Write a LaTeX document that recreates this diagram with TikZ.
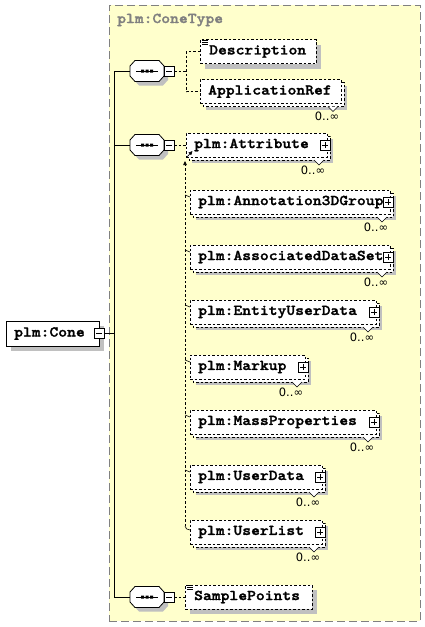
\documentclass[tikz,border=0pt]{standalone}
\usepackage{fontspec}
\newfontfamily\elfont{lmmonolt10-bold}[Extension=.otf, FakeStretch=1.12, FakeBold=1.6]
\newfontfamily\occfont{DejaVu Sans}
\usetikzlibrary{arrows.meta}
\definecolor{grpfill}{HTML}{FFFFCC}
\definecolor{grpline}{HTML}{808080}
\definecolor{shadowgray}{HTML}{C0C0C0}
\tikzset{
  x=1pt, y=-1pt,
  wire/.style={line width=0.9pt, black},
  dl/.style={line width=0.7pt, dash pattern=on 2.5pt off 2pt},
  boxdash/.style={draw, fill=white, line width=0.7pt, dash pattern=on 2.5pt off 2pt},
  eltext/.style={font={\elfont\fontsize{15}{16}\selectfont}, inner sep=0pt, anchor=west},
  occ/.style={font={\occfont\fontsize{11.5}{12}\selectfont}, inner sep=0pt},
  pm/.style={draw, fill=white, line width=0.6pt, minimum size=10pt, inner sep=0pt},
  pmminus/.style={pm, path picture={\draw[line width=0.6pt] ([xshift=-3pt]path picture bounding box.center) -- ([xshift=3pt]path picture bounding box.center);}},
  pmplus/.style={pm, path picture={\draw[line width=0.6pt] ([xshift=-3pt]path picture bounding box.center) -- ([xshift=3pt]path picture bounding box.center) ([yshift=-3pt]path picture bounding box.center) -- ([yshift=3pt]path picture bounding box.center);}},
  tipa/.style={-{Triangle[length=4pt,width=3.5pt]}},
}
% multi-occurrence element: name, x1, cy, x2, text
\newcommand{\multel}[5]{%
  \fill[shadowgray] (#2+6,#3-6) rectangle (#4+6,#3+18);
  \draw[boxdash] (#2+3,#3-9) rectangle (#4+3,#3+15);
  \node[boxdash, anchor=north west, minimum width=#4-#2, minimum height=24, inner sep=0pt, outer sep=0pt] (#1) at (#2,#3-12) {};
  \node[eltext] (#1t) at (#2+8,#3) {#5};
  \draw[fill=white, line width=0.6pt] (#4-13,#3+15) -- (#4-8,#3+20) -- (#4-3,#3+15);
  \node[occ] (#1o) at (#4-14,#3+25) {0..∞};
}
% single element with documentation icon: name, x1, cy, x2, text
\newcommand{\singleel}[5]{%
  \fill[shadowgray] (#2+5,#3-7) rectangle (#4+5,#3+17);
  \node[boxdash, anchor=north west, minimum width=#4-#2, minimum height=24, inner sep=0pt, outer sep=0pt] (#1) at (#2,#3-12) {};
  \node[eltext] (#1t) at (#2+9,#3) {#5};
  \draw[line width=0.6pt] (#2+2,#3-11.5) -- ++(6,0) (#2+2,#3-9.5) -- ++(6,0) (#2+2,#3-7.5) -- ++(6,0);
}
% sequence compositor: name, cy
\newcommand{\seqnode}[2]{%
  \fill[shadowgray, shift={(151,#2+4)}] (-17,-5) -- (-12,-10.5) -- (12,-10.5) -- (17,-5) -- (17,5) -- (12,10.5) -- (-12,10.5) -- (-17,5) -- cycle;
  \draw[fill=white, line width=0.8pt, shift={(147,#2)}] (-17,-5) -- (-12,-10.5) -- (12,-10.5) -- (17,-5) -- (17,5) -- (12,10.5) -- (-12,10.5) -- (-17,5) -- cycle;
  \node[minimum width=34, minimum height=21, inner sep=0pt, outer sep=0pt] (#1) at (147,#2) {};
  \draw[line width=0.9pt] (136,#2) -- (158,#2);
  \fill (141,#2-1.5) rectangle ++(3,3) (145.5,#2-1.5) rectangle ++(3,3) (150,#2-1.5) rectangle ++(3,3);
  \node[pmminus] (#1m) at (169,#2) {};
}
\begin{document}
\begin{tikzpicture}
\useasboundingbox (0,0) rectangle (425,627);
% group box
\node[draw=grpline, fill=grpfill, line width=1pt, dash pattern=on 8pt off 4pt,
      anchor=north west, minimum width=311, minimum height=616, inner sep=0pt, outer sep=0pt] (grp) at (109,5) {};
\node[eltext, text=grpline] (grpt) at (117,20) {plm:ConeType};

% root element
\fill[shadowgray] (11,326) rectangle (104,351);
\node[draw, fill=white, line width=0.8pt, anchor=north west, minimum width=93, minimum height=25, inner sep=0pt, outer sep=0pt] (cone) at (6,321) {};
\node[eltext] (conet) at (14,333.5) {plm:Cone};
\node[pmminus] (conem) at (99,333) {};

% trunk
\coordinate (j1) at (114,71);
\coordinate (j2) at (114,145);
\coordinate (j3) at (114,597);
\draw[wire] (j1) -- (j3);
\draw[wire] (conem.east) -- (conem.east -| j1);

% sequences
\seqnode{seqa}{71}
\seqnode{seqb}{145}
\seqnode{seqc}{597}
\draw[wire] (j1) -- (seqa.west);
\draw[wire] (j2) -- (seqb.west);
\draw[wire] (j3) -- (seqc.west);

% first sequence
\singleel{desc}{200}{51.5}{316}{Description}
\multel{appref}{200}{91.5}{341}{ApplicationRef}
\coordinate (b1) at (186,71);
\draw[dl] (seqam.east) -- (b1);
\draw[dl] (desc.west) -- (desc.west -| b1) -- (appref.west -| b1) -- (appref.west);

% second sequence: substitution group
\multel{attr}{186}{145}{327}{plm:Attribute}
\node[pmplus] (attrp) at (325,145) {};
\draw[dl] (seqbm.east) -- (attr.west);

\multel{ma}{190}{202}{390}{plm:Annotation3DGroup}
\node[pmplus] (map) at (388,202) {};
\multel{mb}{190}{257}{390}{plm:AssociatedDataSet}
\node[pmplus] (mbp) at (388,257) {};
\multel{mc}{190}{312}{376}{plm:EntityUserData}
\node[pmplus] (mcp) at (374,312) {};
\multel{md}{190}{367}{305}{plm:Markup}
\node[pmplus] (mdp) at (303,367) {};
\multel{me}{190}{422}{376}{plm:MassProperties}
\node[pmplus] (mep) at (374,422) {};
\multel{mf}{190}{477}{322}{plm:UserData}
\node[pmplus] (mfp) at (320,477) {};
\multel{mg}{190}{532}{322}{plm:UserList}
\node[pmplus] (mgp) at (320,532) {};

\coordinate (subtop) at (185,161);
\coordinate (subbot) at (185,526);
\draw[dl, tipa] (subbot) -- (subtop);
\coordinate (diaga) at (187,157);
\coordinate (diagb) at (192.5,151);
\draw[line width=0.6pt, tipa] (diaga) -- (diagb);
\foreach \n in {ma,mb,mc,md,me,mf}
  \draw[line width=0.6pt] ([xshift=-5pt,yshift=-5pt]\n.north west) -- ([yshift=-7pt]\n.north west);
\draw[line width=0.6pt] (subbot) to[out=-90,in=180] ([yshift=-10pt]mg.north west);

% third sequence
\singleel{samp}{185}{597}{312}{SamplePoints}
\draw[dl] (seqcm.east) -- (samp.west);
\end{tikzpicture}
\end{document}
